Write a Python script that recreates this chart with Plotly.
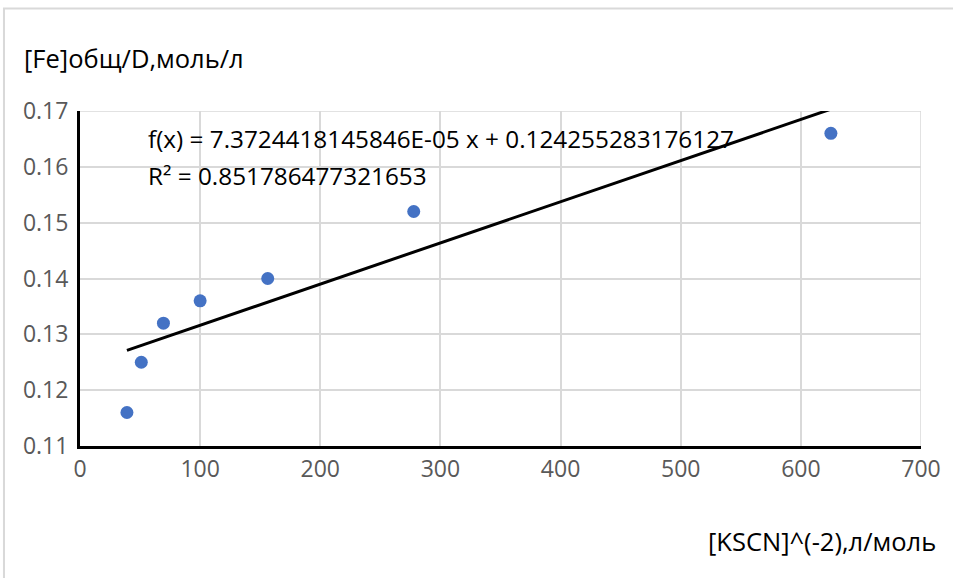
import numpy as np
import plotly.graph_objects as go

x_vals = [39.0625, 51.0204, 69.4444, 100.0, 156.25, 277.7778, 625.0]
y_vals = [0.116, 0.125, 0.132, 0.136, 0.140, 0.152, 0.166]
slope = 7.3724418145846e-05
intercept = 0.124255283176127
r2 = 0.851786477321653

x_title = "[KSCN]^(-2),л/моль"
y_title = "[Fe]общ/D,моль/л"
x_ticks = [0, 100, 200, 300, 400, 500, 600, 700]
y_ticks = [0.11, 0.12, 0.13, 0.14, 0.15, 0.16, 0.17]

tx = np.array([min(x_vals), max(x_vals)])
ty = slope * tx + intercept

FONT = "Open Sans"

fig = go.Figure()
fig.add_trace(go.Scatter(x=tx, y=ty, mode="lines",
                         line=dict(color="black", width=3), showlegend=False,
                         hoverinfo="skip"))
fig.add_trace(go.Scatter(x=x_vals, y=y_vals, mode="markers",
                         marker=dict(color="#4472C4", size=13),
                         showlegend=False, cliponaxis=False))

fig.update_layout(
    width=953, height=578,
    margin=dict(l=80, r=32, t=111, b=132),
    paper_bgcolor="white", plot_bgcolor="white",
    font=dict(family=FONT, size=23, color="#595959"),
    xaxis=dict(range=[0, 700], tickvals=x_ticks, ticktext=[str(v) for v in x_ticks],
               showgrid=True, gridcolor="#d9d9d9", gridwidth=1.5,
               showline=True, linecolor="black", linewidth=3,
               ticks="", zeroline=False, mirror=False),
    yaxis=dict(range=[0.11, 0.17], tickvals=y_ticks, ticktext=[f"{v:.2f}" for v in y_ticks],
               showgrid=True, gridcolor="#d9d9d9", gridwidth=1.5,
               showline=True, linecolor="black", linewidth=3,
               ticks="outside", ticklen=4, tickcolor="white",
               zeroline=False),
)

# right and top gridline edges
fig.add_shape(type="line", xref="x", yref="y", x0=700, x1=700, y0=0.11, y1=0.17,
              line=dict(color="#d9d9d9", width=1.5), layer="below")
fig.add_shape(type="line", xref="x", yref="y", x0=0, x1=700, y0=0.17, y1=0.17,
              line=dict(color="#d9d9d9", width=1.5), layer="below")

# chart border
fig.add_shape(type="rect", xref="paper", yref="paper",
              x0=-0.0904, x1=1.06, y0=-0.45, y1=1.306,
              line=dict(color="#d9d9d9", width=2))

fig.add_annotation(xref="paper", yref="paper", x=-0.069, y=1.158,
                   xanchor="left", yanchor="middle", showarrow=False,
                   text=y_title, font=dict(family=FONT, size=25.5, color="black"))
fig.add_annotation(xref="paper", yref="paper", x=1.020, y=-0.284,
                   xanchor="right", yanchor="middle", showarrow=False,
                   text=x_title, font=dict(family=FONT, size=25.5, color="black"))

eq_text = "f(x) = 7.3724418145846E-05 x + 0.124255283176127"
fig.add_annotation(xref="paper", yref="paper", x=0.0785, y=0.919,
                   xanchor="left", yanchor="middle", showarrow=False,
                   text=eq_text, font=dict(family=FONT, size=24.3, color="black"))
fig.add_annotation(xref="paper", yref="paper", x=0.0785, y=0.806,
                   xanchor="left", yanchor="middle", showarrow=False,
                   text=f"R² = {r2}", font=dict(family=FONT, size=24.3, color="black"))

fig.write_html("out.html", config={"displayModeBar": False},
               post_script="document.body.style.margin='0';")
